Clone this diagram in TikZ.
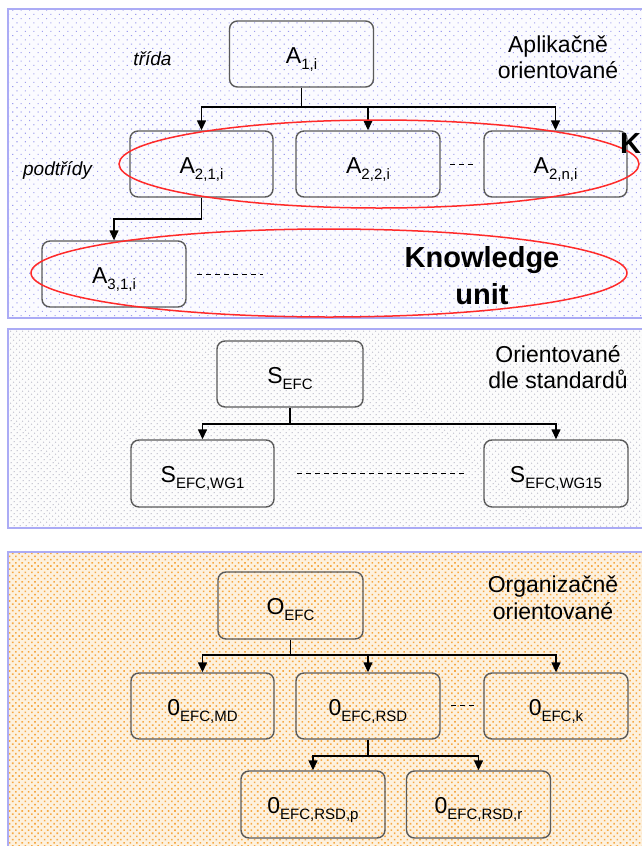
\documentclass[tikz,border=0pt]{standalone}
\usepackage{fontspec}
\setmainfont{Liberation Sans}
\usetikzlibrary{arrows.meta,patterns.meta}
\newcommand\sbx[1]{\raisebox{-6pt}{\fontsize{15}{15}\selectfont #1}}
\definecolor{panelblue}{HTML}{ABABF5}
\definecolor{pAbase}{HTML}{FBFBFF}
\definecolor{pAdot}{HTML}{9C9CEE}
\definecolor{pBbase}{HTML}{FCFCFC}
\definecolor{pBdot}{HTML}{C6C6D2}
\definecolor{pCbase}{HTML}{FDF1DE}
\definecolor{pCdot}{HTML}{F6A945}
\definecolor{boxgray}{HTML}{5A5A5A}
\definecolor{ellred}{HTML}{FF2A2A}
\begin{document}
\begin{tikzpicture}[x=1pt,y=-1pt,
  panelA/.style={preaction={fill=pAbase}, pattern={Dots[distance=6pt,radius=0.75pt,angle=45]}, pattern color=pAdot, draw=panelblue, line width=2pt},
  panelB/.style={preaction={fill=pBbase}, pattern={Dots[distance=4pt,radius=0.8pt,angle=45]}, pattern color=pBdot, draw=panelblue, line width=2pt},
  panelC/.style={preaction={fill=pCbase}, pattern={Dots[distance=4.5pt,radius=1.1pt,angle=45]}, pattern color=pCdot, draw=panelblue, line width=2pt},
  box/.style={draw=boxgray, line width=1.4pt, rounded corners=8pt, minimum width=144pt, minimum height=66pt,
    inner sep=0pt, text height=22pt, text depth=4pt, font=\fontsize{23}{26}\selectfont},
  conn/.style={draw=black, line width=1.4pt},
  arr/.style={conn, -{Triangle[length=10pt,width=9pt]}},
  gap/.style={draw=black, line width=1pt, dash pattern=on 5pt off 4pt},
  heading/.style={font=\fontsize{23}{26}\selectfont, anchor=base, inner sep=0pt},
  note/.style={font=\fontsize{19}{22}\selectfont\itshape, anchor=base, inner sep=0pt},
  ku/.style={font=\fontsize{29}{34}\selectfont\bfseries, anchor=base, inner sep=0pt},
  ell/.style={draw=ellred, line width=1.5pt}
]
\useasboundingbox (0,0) rectangle (642,846);
\clip (0,0) rectangle (642,846);
\fill[white] (0,0) rectangle (642,846);

% panels
\path[panelA] (8,9) rectangle (690,318);
\path[panelB] (8,329) rectangle (690,528);
\path[panelC] (8,552) rectangle (690,880);

% ---------- panel 1 ----------
\node[box] (A1) at (301.5,54) {A\sbx{1,i}};
\node[box, minimum width=143pt] (A21) at (201.5,164) {A\sbx{2,1,i}};
\node[box] (A22) at (368,164) {A\sbx{2,2,i}};
\node[box, minimum width=143pt] (A2n) at (555.5,164) {A\sbx{2,n,i}};
\node[box] (A31) at (114,274) {A\sbx{3,1,i}};

\coordinate (j1) at (301.5,107);
\draw[conn] (A1.south) -- (j1);
\draw[arr] (j1) -| (A21.north);
\draw[arr] (j1) -| (A22.north);
\draw[arr] (j1) -| (A2n.north);
\coordinate (j2) at (201.5,219);
\draw[conn] (A21.south) -- (j2);
\draw[arr] (j2) -| (A31.north);

\coordinate (g1a) at (450,164);
\coordinate (g1b) at (476,164);
\draw[gap] (g1a) -- (g1b);
\coordinate (g2a) at (197,274);
\coordinate (g2b) at (263,274);
\draw[gap] (g2a) -- (g2b);

\node[note] (trida) at (152.5,65) {třída};
\node[note] (podtridy) at (57.5,175) {podtřídy};
\node[heading] (ap1) at (558,52) {Aplikačně};
\node[heading] (ap2) at (558,78) {orientované};

\draw[ell] (379,164) ellipse [x radius=260, y radius=44];
\draw[ell] (329,273) ellipse [x radius=298, y radius=44];
\node[ku] (know) at (482,267) {Knowledge};
\node[ku] (unit) at (482,304) {unit};
\node[ku, anchor=base west] (kcut) at (620,153) {K};

% ---------- panel 2 ----------
\node[box, minimum width=146pt] (S) at (290,374) {S\sbx{EFC}};
\node[box, minimum width=143pt, minimum height=67pt] (S1) at (202.5,473.5) {S\sbx{EFC,WG1}};
\node[box, minimum width=144pt, minimum height=67pt] (S15) at (556,473.5) {S\sbx{EFC,WG15}};
\coordinate (j3) at (290,424);
\draw[conn] (S.south) -- (j3);
\draw[arr] (j3) -| (S1.north);
\draw[arr] (j3) -| (S15.north);
\coordinate (g3a) at (297,473);
\coordinate (g3b) at (464,473);
\draw[gap] (g3a) -- (g3b);
\node[heading] (or1) at (558,362) {Orientované};
\node[heading] (or2) at (558,388) {dle standardů};

% ---------- panel 3 ----------
\node[box, minimum width=145pt, minimum height=67pt] (O) at (290.5,605.5) {O\sbx{EFC}};
\node[box, minimum width=143pt] (OMD) at (202.5,706) {0\sbx{EFC,MD}};
\node[box] (ORSD) at (368,706) {0\sbx{EFC,RSD}};
\node[box] (Ok) at (556,706) {0\sbx{EFC,k}};
\node[box, minimum height=67pt] (ORp) at (313,804.5) {0\sbx{EFC,RSD,p}};
\node[box, minimum height=67pt] (ORr) at (478.5,804.5) {0\sbx{EFC,RSD,r}};
\coordinate (j4) at (290.5,655);
\draw[conn] (O.south) -- (j4);
\draw[arr] (j4) -| (OMD.north);
\draw[arr] (j4) -| (ORSD.north);
\draw[arr] (j4) -| (Ok.north);
\coordinate (j5) at (368,756);
\draw[conn] (ORSD.south) -- (j5);
\draw[arr] (j5) -| (ORp.north);
\draw[arr] (j5) -| (ORr.north);
\coordinate (g4a) at (451,705);
\coordinate (g4b) at (477,705);
\draw[gap] (g4a) -- (g4b);
\node[heading] (og1) at (553,592) {Organizačně};
\node[heading] (og2) at (553,619) {orientované};
\end{tikzpicture}
\end{document}
